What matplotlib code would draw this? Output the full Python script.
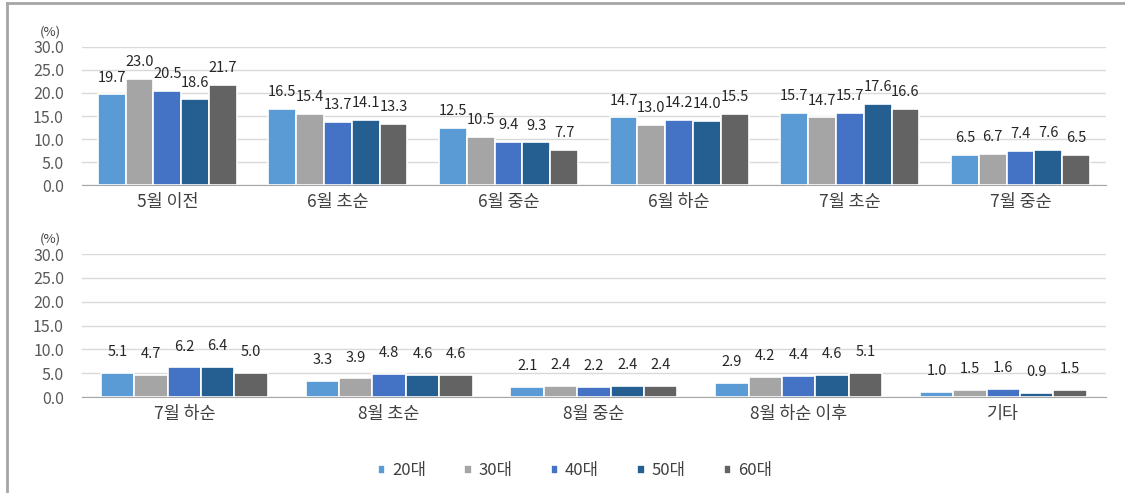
import numpy as np
import matplotlib
matplotlib.use("Agg")
import matplotlib.pyplot as plt
from matplotlib.lines import Line2D

plt.rcParams['font.family'] = ['Noto Sans CJK KR', 'DejaVu Sans']

# data
series = ['20대', '30대', '40대', '50대', '60대']
colors = ['#5B9BD5', '#A5A5A5', '#4472C4', '#255E91', '#636363']

top_cats = ['5월 이전', '6월 초순', '6월 중순', '6월 하순', '7월 초순', '7월 중순']
top_20 = [19.7, 16.5, 12.5, 14.7, 15.7, 6.5]
top_30 = [23.0, 15.4, 10.5, 13.0, 14.7, 6.7]
top_40 = [20.5, 13.7, 9.4, 14.2, 15.7, 7.4]
top_50 = [18.6, 14.1, 9.3, 14.0, 17.6, 7.6]
top_60 = [21.7, 13.3, 7.7, 15.5, 16.6, 6.5]

bot_cats = ['7월 하순', '8월 초순', '8월 중순', '8월 하순 이후', '기타']
bot_20 = [5.1, 3.3, 2.1, 2.9, 1.0]
bot_30 = [4.7, 3.9, 2.4, 4.2, 1.5]
bot_40 = [6.2, 4.8, 2.2, 4.4, 1.6]
bot_50 = [6.4, 4.6, 2.4, 4.6, 0.9]
bot_60 = [5.0, 4.6, 2.4, 5.1, 1.5]

yticks = [0, 5, 10, 15, 20, 25, 30]

fig = plt.figure(figsize=(11.25, 4.93), dpi=100)
ax1 = fig.add_axes([0.0729, 0.6247, 0.910, 0.280])
ax2 = fig.add_axes([0.0729, 0.1947, 0.910, 0.290])


def draw(ax, cats, vals, lab_off):
    x = np.arange(len(cats))
    w = 0.163
    bars = []
    for i, v in enumerate(vals):
        pos = x + (i - 2) * w
        b = ax.bar(pos, v, w, color=colors[i], edgecolor='white', linewidth=1.2,
                   label=series[i], zorder=3)
        bars.append(b)
        for xx, vv in zip(pos, v):
            ax.annotate(f'{vv:.1f}', (xx, vv), xytext=(0, lab_off), textcoords='offset points',
                        ha='center', va='bottom', fontsize=10.5, color='#262626')
    ax.set_xlim(-0.5, len(cats) - 0.5)
    ax.set_ylim(0, 30)
    ax.set_yticks(yticks)
    ax.set_yticklabels([f'{t:.1f}' for t in yticks], fontsize=11.5, color='#595959')
    ax.set_xticks(x)
    ax.set_xticklabels(cats, fontsize=12.5, color='#404040')
    ax.tick_params(axis='y', length=0, pad=13)
    ax.tick_params(axis='x', length=0, pad=6)
    ax.grid(axis='y', color='#D9D9D9', linewidth=1, zorder=0)
    for s in ['top', 'right', 'left']:
        ax.spines[s].set_visible(False)
    ax.spines['bottom'].set_color('#A6A6A6')
    ax.spines['bottom'].set_zorder(4)
    ax.text(-0.031, 1.06, '(%)', transform=ax.transAxes, ha='center', va='bottom',
            fontsize=9.5, color='#404040')
    return bars


bars = draw(ax1, top_cats, [top_20, top_30, top_40, top_50, top_60], 7)
draw(ax2, bot_cats, [bot_20, bot_30, bot_40, bot_50, bot_60], 10)

fig.legend(handles=bars, labels=series, loc='center', bbox_to_anchor=(0.511, 0.045),
           ncol=5, frameon=False, fontsize=12, handlelength=0.45, handleheight=0.45,
           handletextpad=0.4, columnspacing=2.3, labelcolor='#404040')

# outer frame (left and top edges visible)
fig.add_artist(Line2D([0.0065, 0.0065], [0, 0.994], transform=fig.transFigure,
                      color='#A6A6A6', linewidth=2))
fig.add_artist(Line2D([0.0065, 1.0], [0.994, 0.994], transform=fig.transFigure,
                      color='#A6A6A6', linewidth=2))

fig.savefig('out.png', dpi=100)
